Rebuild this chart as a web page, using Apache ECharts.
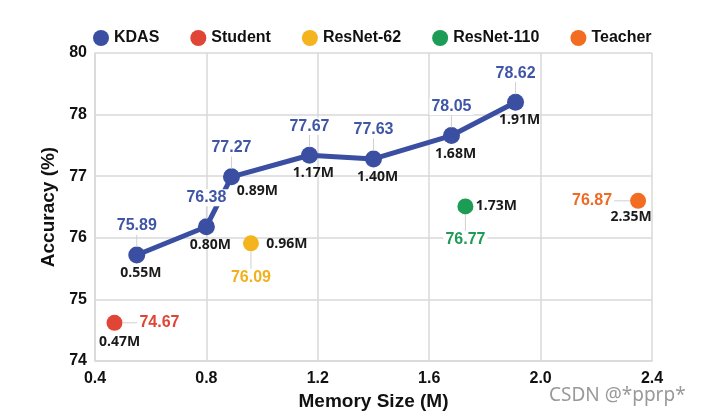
<!DOCTYPE html>
<html>
<head>
<meta charset="utf-8">
<script src="https://cdn.jsdelivr.net/npm/echarts@6/dist/echarts.min.js"></script>
<style>
  html, body { margin: 0; padding: 0; background: #fff; }
  #chart { width: 702px; height: 420px; }
</style>
</head>
<body>
<div id="chart"></div>
<script>
// 数据 (位置按图读出, 标签为图中文字)
var kdasMem = [0.55, 0.80, 0.89, 1.17, 1.40, 1.68, 1.91];
var kdasAcc = [75.72, 76.18, 76.99, 77.34, 77.28, 77.66, 78.20];
var kdasText = ['75.89', '76.38', '77.27', '77.67', '77.63', '78.05', '78.62'];

var studentMem = [0.47];
var studentAcc = [74.62];
var studentText = ['74.67'];

var res62Mem = [0.96];
var res62Acc = [75.91];
var res62Text = ['76.09'];

var res110Mem = [1.73];
var res110Acc = [76.51];
var res110Text = ['76.77'];

var teacherMem = [2.35];
var teacherAcc = [76.60];
var teacherText = ['76.87'];

var yTickLabels = ['74', '75', '76', '77', '78', '80'];
var xTicks = [0.4, 0.8, 1.2, 1.6, 2.0, 2.4];

var FONT = 'Liberation Sans, Arial, sans-serif';
var MEM_FONT = 'Open Sans, Liberation Sans, sans-serif';
var GRID_COLOR = '#d9d9d9';

function pairs(xs, ys) {
	return xs.map(function (x, i) { return [x, ys[i]]; });
}

// 数值标签系列 (带引导线, 白底, 叠在折线上方)
function valueSeries(name, color, xs, ys, texts, dx, dy) {
	return {
		name: name,
		type: 'scatter',
		symbolSize: 16,
		itemStyle: { color: 'rgba(0,0,0,0)', opacity: 1 },
		silent: true,
		z: 6,
		data: pairs(xs, ys),
		label: {
			show: true,
			position: 'inside',
			color: color,
			fontFamily: FONT,
			fontWeight: 'bold',
			fontSize: 16,
			backgroundColor: '#fff',
			padding: [1, 2, 0, 2],
			formatter: function (p) { return texts[p.dataIndex]; }
		},
		labelLayout: { dx: dx, dy: dy },
		labelLine: { show: true, lineStyle: { color: '#d0d0d0', width: 1 } }
	};
}

// 内存标签系列 (不显示标记)
function memSeries(name, xs, ys, offsetFn) {
	return {
		name: name,
		type: 'scatter',
		symbolSize: 1,
		itemStyle: { color: 'rgba(0,0,0,0)', opacity: 1 },
		silent: true,
		z: 5,
		data: pairs(xs, ys),
		label: {
			show: true,
			position: 'inside',
			color: '#1a1a1a',
			fontFamily: MEM_FONT,
			fontWeight: 'bold',
			fontSize: 14,
			formatter: function (p) { return xs[p.dataIndex].toFixed(2) + 'M'; }
		},
		labelLayout: function (p) {
			var o = offsetFn(p.dataIndex);
			return { dx: o[0], dy: o[1] };
		}
	};
}

function pointSeries(name, color, xs, ys) {
	return {
		name: name,
		type: 'scatter',
		symbol: 'circle',
		symbolSize: 16,
		itemStyle: { color: color, opacity: 1 },
		z: 3,
		data: pairs(xs, ys)
	};
}

var chart = echarts.init(document.getElementById('chart'));

var option = {
	backgroundColor: '#fff',
	animation: false,
	legend: {
		data: ['KDAS', 'Student', 'ResNet-62', 'ResNet-110', 'Teacher'],
		left: 88,
		top: 25,
		icon: 'circle',
		itemWidth: 16,
		itemHeight: 16,
		itemGap: 31,
		textStyle: { fontFamily: FONT, fontWeight: 'bold', fontSize: 16, color: '#111' }
	},
	grid: { left: 95, right: 50, top: 53, bottom: 59, containLabel: false },
	xAxis: {
		type: 'value',
		min: xTicks[0],
		max: xTicks[xTicks.length - 1],
		interval: 0.4,
		name: 'Memory Size (M)',
		nameLocation: 'middle',
		nameGap: 30,
		nameTextStyle: { fontFamily: FONT, fontWeight: 'bold', fontSize: 19, color: '#111' },
		axisLine: { lineStyle: { color: GRID_COLOR, width: 1.5 } },
		axisTick: { show: false },
		axisLabel: {
			margin: 10,
			fontFamily: FONT, fontWeight: 'bold', fontSize: 16, color: '#111',
			formatter: function (v) { return v.toFixed(1); }
		},
		splitLine: { show: true, lineStyle: { color: GRID_COLOR, width: 1.5 } }
	},
	yAxis: {
		type: 'value',
		min: 74,
		max: 79,
		interval: 1,
		name: 'Accuracy (%)',
		nameLocation: 'middle',
		nameGap: 36,
		nameTextStyle: { fontFamily: FONT, fontWeight: 'bold', fontSize: 19, color: '#111' },
		axisLine: { show: true, lineStyle: { color: GRID_COLOR, width: 1.5 } },
		axisTick: { show: false },
		axisLabel: {
			margin: 8,
			fontFamily: FONT, fontWeight: 'bold', fontSize: 16, color: '#111',
			formatter: function (v) { return yTickLabels[Math.round(v - 74)]; }
		},
		splitLine: { show: true, lineStyle: { color: GRID_COLOR, width: 1.5 } }
	},
	graphic: [{
		type: 'text',
		left: 549,
		top: 386,
		style: { text: 'CSDN @*pprp*', fill: '#999', font: '19px "Noto Sans", sans-serif' }
	}],
	series: [
		{
			name: 'KDAS',
			type: 'line',
			symbol: 'circle',
			symbolSize: 17,
			showAllSymbol: true,
			lineStyle: { color: '#3a4fa1', width: 5 },
			itemStyle: { color: '#3a4fa1' },
			z: 3,
			data: pairs(kdasMem, kdasAcc)
		},
		pointSeries('Student', '#e04535', studentMem, studentAcc),
		pointSeries('ResNet-62', '#f4b41d', res62Mem, res62Acc),
		pointSeries('ResNet-110', '#1c9c54', res110Mem, res110Acc),
		pointSeries('Teacher', '#f26d22', teacherMem, teacherAcc),
		valueSeries('kdasVal', '#3f56a6', kdasMem, kdasAcc, kdasText, 0, -29),
		valueSeries('studentVal', '#e04535', studentMem, studentAcc, studentText, 45, 0),
		valueSeries('res62Val', '#f2b01c', res62Mem, res62Acc, res62Text, 0, 34),
		valueSeries('res110Val', '#1e9c55', res110Mem, res110Acc, res110Text, 0, 33),
		valueSeries('teacherVal', '#f06a24', teacherMem, teacherAcc, teacherText, -46, 0),
		memSeries('kdasMem', kdasMem, kdasAcc, function (i) { return i === 2 ? [26, 14] : [4, 18]; }),
		memSeries('studentMem', studentMem, studentAcc, function () { return [5, 19]; }),
		memSeries('res62Mem', res62Mem, res62Acc, function () { return [36, 1]; }),
		memSeries('res110Mem', res110Mem, res110Acc, function () { return [31, 0]; }),
		memSeries('teacherMem', teacherMem, teacherAcc, function () { return [-7, 16]; })
	]
};

chart.setOption(option);
</script>
</body>
</html>
